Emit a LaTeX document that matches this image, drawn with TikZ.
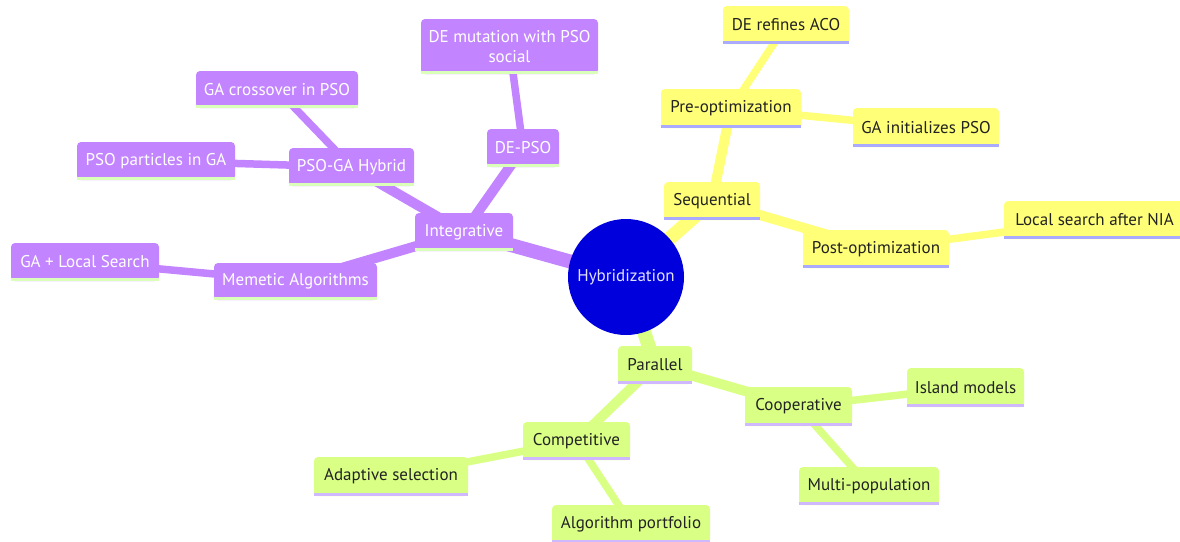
\documentclass[tikz,border=0pt]{standalone}
\usepackage{fontspec}
\setmainfont{PT Sans}
\usetikzlibrary{backgrounds}
\definecolor{ylw}{HTML}{FFFF78}
\definecolor{ylwline}{HTML}{AAAAFF}
\definecolor{prp}{HTML}{C385FF}
\definecolor{prpline}{HTML}{D9FFB8}
\definecolor{grn}{HTML}{D9FF85}
\definecolor{grnline}{HTML}{D0B8FF}
\definecolor{rootblue}{HTML}{0000DD}
\definecolor{roottext}{HTML}{E0E0FF}
\definecolor{darktext}{HTML}{222222}
\tikzset{
  box/.style={rectangle, rounded corners=4pt, inner sep=0pt, font=\fontsize{17}{19.5}\selectfont, align=center},
  ybox/.style={box, fill=ylw, text=darktext},
  pbox/.style={box, fill=prp, text=white},
  gbox/.style={box, fill=grn, text=darktext},
  e0/.style={line width=14pt},
  e1/.style={line width=10pt},
  e2/.style={line width=7.5pt},
}
\newcommand{\mmnode}[7]{% style, name, cx, cy, w, h, text
  \node[#1, minimum width=#5pt, minimum height=#6pt] (#2) at (#3,#4) {#7};
}
\newcommand{\uline}[2]{% name, colour
  \draw[#2, line width=3pt] ([yshift=1.5pt]#1.south west) -- ([yshift=1.5pt]#1.south east);
}
\begin{document}
\begin{tikzpicture}[x=1pt,y=-1pt]
\useasboundingbox (0,0) rectangle (1180,541);
% root
\node[circle, fill=rootblue, minimum size=116pt, inner sep=0pt, text=roottext, font=\fontsize{17}{19.5}\selectfont] (root) at (626,277) {Hybridization};
% yellow
\mmnode{ybox}{seq}{712}{201}{96}{38}{Sequential}
\mmnode{ybox}{pre}{731}{108.5}{140}{39}{Pre-optimization}
\mmnode{ybox}{deaco}{786}{25}{126}{38}{DE refines ACO}
\mmnode{ybox}{gapso}{926}{127.5}{146}{39}{GA initializes PSO}
\mmnode{ybox}{post}{876}{249}{146}{38}{Post-optimization}
\mmnode{ybox}{local}{1094.5}{220}{181}{38}{Local search after NIA}
% purple
\mmnode{pbox}{integ}{464}{232}{98}{38}{Integrative}
\mmnode{pbox}{depso}{523}{148}{72}{38}{DE-PSO}
\mmnode{pbox}{demut}{509.5}{46.5}{177}{55}{DE mutation with PSO\\social}
\mmnode{pbox}{psoga}{351.5}{167}{125}{38}{PSO-GA Hybrid}
\mmnode{pbox}{gacross}{277}{89.5}{162}{37}{GA crossover in PSO}
\mmnode{pbox}{psopart}{156}{161}{158}{38}{PSO particles in GA}
\mmnode{pbox}{memetic}{295.5}{281.5}{163}{37}{Memetic Algorithms}
\mmnode{pbox}{galocal}{85}{262}{148}{38}{GA + Local Search}
% green
\mmnode{gbox}{par}{655}{365}{74}{38}{Parallel}
\mmnode{gbox}{comp}{576.5}{441}{107}{38}{Competitive}
\mmnode{gbox}{adapt}{391}{476.5}{154}{39}{Adaptive selection}
\mmnode{gbox}{portf}{631}{524}{158}{38}{Algorithm portfolio}
\mmnode{gbox}{coop}{798.5}{406.5}{107}{39}{Cooperative}
\mmnode{gbox}{island}{965.5}{387.5}{117}{39}{Island models}
\mmnode{gbox}{multi}{869}{486}{140}{38}{Multi-population}
% underlines
\foreach \n in {seq,pre,deaco,gapso,post,local} {\uline{\n}{ylwline}}
\foreach \n in {integ,depso,demut,psoga,gacross,psopart,memetic,galocal} {\uline{\n}{prpline}}
\foreach \n in {par,comp,adapt,portf,coop,island,multi} {\uline{\n}{grnline}}
% edges
\begin{pgfonlayer}{background}
\draw[ylw, e0] (root.center) -- (seq.center);
\draw[ylw, e1] (seq.center) -- (pre.center);
\draw[ylw, e1] (seq.center) -- (post.center);
\draw[ylw, e2] (pre.center) -- (deaco.center);
\draw[ylw, e2] (pre.center) -- (gapso.center);
\draw[ylw, e2] (post.center) -- (local.center);
\draw[prp, e0] (root.center) -- (integ.center);
\draw[prp, e1] (integ.center) -- (depso.center);
\draw[prp, e1] (integ.center) -- (psoga.center);
\draw[prp, e1] (integ.center) -- (memetic.center);
\draw[prp, e2] (depso.center) -- (demut.center);
\draw[prp, e2] (psoga.center) -- (gacross.center);
\draw[prp, e2] (psoga.center) -- (psopart.center);
\draw[prp, e2] (memetic.center) -- (galocal.center);
\draw[grn, e0] (root.center) -- (par.center);
\draw[grn, e1] (par.center) -- (comp.center);
\draw[grn, e1] (par.center) -- (coop.center);
\draw[grn, e2] (comp.center) -- (adapt.center);
\draw[grn, e2] (comp.center) -- (portf.center);
\draw[grn, e2] (coop.center) -- (island.center);
\draw[grn, e2] (coop.center) -- (multi.center);
\end{pgfonlayer}
\end{tikzpicture}
\end{document}
